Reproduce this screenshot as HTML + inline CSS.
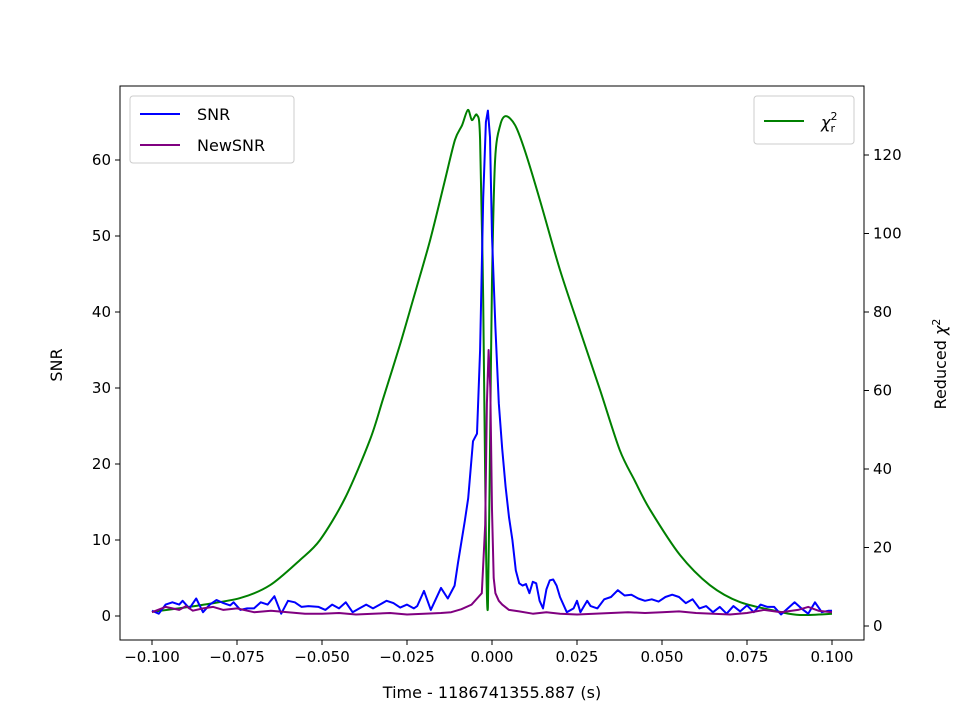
<!DOCTYPE html>
<html><head><meta charset="utf-8"><style>
html,body{margin:0;padding:0;background:#fff}
svg{display:block;font-family:"DejaVu Sans","Liberation Sans",sans-serif}
</style></head><body>
<svg id="chart" width="960" height="720" viewBox="0 0 960 720"></svg>
<script>
const snrT=[-100,-98,-96,-94,-92,-91,-89,-87,-85,-83,-81,-79,-77,-76,-74,-72,-70,-68,-66,-64,-62,-60,-58,-56,-54,-51,-49,-47,-45,-43,-41,-39,-37,-35,-33,-31,-29,-27,-25,-23,-22,-20,-18,-15,-13,-11,-10,-8,-7,-5.6,-4.4,-3.5,-2.6,-1.8,-1.2,-0.6,0,1,2,3,4,5,6,7,8,9,10,11,12,13,14,15,16,17,18,19,20,22,24,25,26,28,29,31,33,35,37,39,41,43,45,47,49,51,53,55,57,59,61,63,65,67,69,71,73,75,77,79,81,83,85,87,89,91,93,95,97,99,100];
const snrV=[0.7,0.3,1.5,1.8,1.5,2.0,1.0,2.3,0.5,1.5,2.1,1.7,1.4,1.8,0.8,1.0,1.0,1.8,1.5,2.6,0.3,2.0,1.8,1.2,1.3,1.2,0.8,1.5,1.0,1.8,0.5,1.0,1.5,1.0,1.5,2.0,1.7,1.1,1.5,1.0,1.3,3.3,0.8,3.7,2.3,4.0,7.0,12.5,15.5,23,24,35,55,65,66.5,63,50,38,28,22,17,13,10,6,4.3,4.0,4.2,3.0,4.5,4.3,2.0,1.0,3.5,4.7,4.8,4.0,2.5,0.5,1.0,2.0,0.5,2.0,1.3,1.0,2.2,2.5,3.4,2.7,2.8,2.3,2.0,2.2,1.9,2.5,2.8,2.5,1.7,2.2,1.0,1.3,0.5,1.2,0.3,1.3,0.6,1.4,0.5,1.5,1.2,1.2,0.2,1.0,1.8,1.0,0.3,1.8,0.5,0.7,0.7];
const newT=[-100,-96,-92,-90,-88,-85,-82,-79,-75,-70,-65,-60,-55,-50,-45,-40,-35,-30,-25,-20,-15,-12,-9,-6,-4,-3,-2,-1.5,-1,-0.5,0,0.5,1,2,3,5,8,12,16,20,25,30,35,40,45,50,55,60,65,70,75,80,85,90,93,96,100];
const newV=[0.5,1.2,0.8,1.3,0.7,1.0,1.2,0.8,1.0,0.5,0.7,0.5,0.3,0.3,0.4,0.2,0.3,0.4,0.2,0.3,0.4,0.5,0.9,1.5,2.5,3,12,28,35,30,14,5,3,2,1.5,0.8,0.6,0.3,0.5,0.3,0.2,0.3,0.4,0.5,0.4,0.5,0.6,0.4,0.3,0.2,0.4,0.8,0.5,0.8,1.2,0.7,0.5];
const chiT=[-100,-85.9,-74.1,-65.3,-56.5,-50.6,-43.2,-35.9,-32,-27.1,-22.6,-18.2,-14,-10.9,-8.8,-7.1,-5.9,-4.4,-3.5,-2.6,-1.8,-1.2,-0.6,0,0.9,2.4,4.1,6.8,9.7,14.1,20,26,31.8,37.6,42,46.5,55.3,64.1,72.9,84.7,90.6,100];
const chiV=[3.6,5.3,7.1,10.4,16.8,21.9,32.6,47.4,58,71.6,85,98.3,113,123.8,127.6,131.5,128.9,130.2,123.8,83,21.9,4.8,44.8,88,118.7,127.6,129.9,127.6,121,108.5,90.7,75,60.1,44.8,37,29.6,18.1,10.4,6.1,3.6,2.8,3.1];
const xTicks=[-0.1,-0.075,-0.05,-0.025,0,0.025,0.05,0.075,0.1];
const xLabels=["−0.100","−0.075","−0.050","−0.025","0.000","0.025","0.050","0.075","0.100"];
const ySnrTicks=[0,10,20,30,40,50,60];
const yChiTicks=[0,20,40,60,80,100,120];

const NS="http://www.w3.org/2000/svg";
const svg=document.getElementById('chart');
const X=t=>492+t*3400;
const Ys=v=>616-v*7.6;
const Yc=v=>626-v*3.925;
function mk(tag,attrs,parent){const e=document.createElementNS(NS,tag);for(const k in attrs)e.setAttribute(k,attrs[k]);(parent||svg).appendChild(e);return e;}
function txt(s,attrs){const e=mk('text',attrs);e.textContent=s;return e;}

const defs=mk('defs',{});const cp=mk('clipPath',{id:'clip'},defs);mk('rect',{x:120,y:86,width:744,height:554},cp);

function line(ts,vs,Y,color,name,smooth){
  const P=ts.map((t,i)=>[X(t/1000),Y(vs[i])]);
  let d='M'+P[0][0].toFixed(1)+','+P[0][1].toFixed(1);
  for(let i=1;i<P.length;i++){
    if(!smooth){d+=' L'+P[i][0].toFixed(1)+','+P[i][1].toFixed(1);continue;}
    const p0=P[Math.max(0,i-2)],p1=P[i-1],p2=P[i],p3=P[Math.min(P.length-1,i+1)];
    const k=0.15;
    const c1=[p1[0]+(p2[0]-p0[0])*k,p1[1]+(p2[1]-p0[1])*k];
    const c2=[p2[0]-(p3[0]-p1[0])*k,p2[1]-(p3[1]-p1[1])*k];
    d+=' C'+c1.map(v=>v.toFixed(1)).join(',')+' '+c2.map(v=>v.toFixed(1)).join(',')+' '+p2[0].toFixed(1)+','+p2[1].toFixed(1);
  }
  const p=mk('path',{d:d,fill:'none',stroke:color,'stroke-width':2,'stroke-linejoin':'round','clip-path':'url(#clip)'});
  
  
}
line(chiT,chiV,Yc,'#008000','chi-squared-line',true);
line(snrT,snrV,Ys,'#0000ff','snr-line',false);
line(newT,newV,Ys,'#800080','newsnr-line',false);

const frame=mk('rect',{x:120,y:86,width:744,height:554,fill:'none',stroke:'#000','stroke-width':1});



xTicks.forEach((t,i)=>{
  mk('line',{x1:X(t),x2:X(t),y1:640,y2:645,stroke:'#000'});
  const e=txt(xLabels[i],{x:X(t),y:662,'font-size':15,'text-anchor':'middle'});
  
  
});
ySnrTicks.forEach(v=>{
  mk('line',{x1:115,x2:120,y1:Ys(v),y2:Ys(v),stroke:'#000'});
  const e=txt(String(v),{x:111,y:Ys(v)+5,'font-size':15,'text-anchor':'end'});
  
  
});
yChiTicks.forEach(v=>{
  mk('line',{x1:864,x2:869,y1:Yc(v),y2:Yc(v),stroke:'#000'});
  const e=txt(String(v),{x:873,y:Yc(v)+5,'font-size':15,'text-anchor':'start'});
  
  
});
</script>
<script>
(function(){
const NS="http://www.w3.org/2000/svg";const svg=document.getElementById('chart');
function mk(tag,attrs){const e=document.createElementNS(NS,tag);for(const k in attrs)e.setAttribute(k,attrs[k]);svg.appendChild(e);return e;}
let e;
e=mk('text',{x:492,y:698,'font-size':16,'text-anchor':'middle'});e.textContent='Time - 1186741355.887 (s)';


e=mk('text',{x:62,y:365,'font-size':16,'text-anchor':'middle',transform:'rotate(-90 62 365)'});e.textContent='SNR';


e=mk('text',{x:946,y:364,'font-size':16,'text-anchor':'middle',transform:'rotate(-90 946 364)'});e.innerHTML='Reduced <tspan font-style="italic">χ</tspan><tspan dy="-6" font-size="11">2</tspan>';


e=mk('rect',{x:130,y:96,width:164,height:67,rx:3,fill:'#fff',stroke:'#ccc'});


mk('line',{x1:140,x2:180,y1:114,y2:114,stroke:'#0000ff','stroke-width':2});
e=mk('text',{x:197,y:120,'font-size':16});e.textContent='SNR';


mk('line',{x1:140,x2:180,y1:145,y2:145,stroke:'#800080','stroke-width':2});
e=mk('text',{x:197,y:151,'font-size':16});e.textContent='NewSNR';


e=mk('rect',{x:754,y:96,width:100,height:48,rx:3,fill:'#fff',stroke:'#ccc'});


mk('line',{x1:764,x2:804,y1:121,y2:121,stroke:'#008000','stroke-width':2});
e=mk('text',{x:821,y:128,'font-size':16});e.innerHTML='<tspan font-style="italic">χ</tspan><tspan dy="-8" font-size="11">2</tspan><tspan dy="12" dx="-7" font-size="11">r</tspan>';


})();
</script>
</body></html>
